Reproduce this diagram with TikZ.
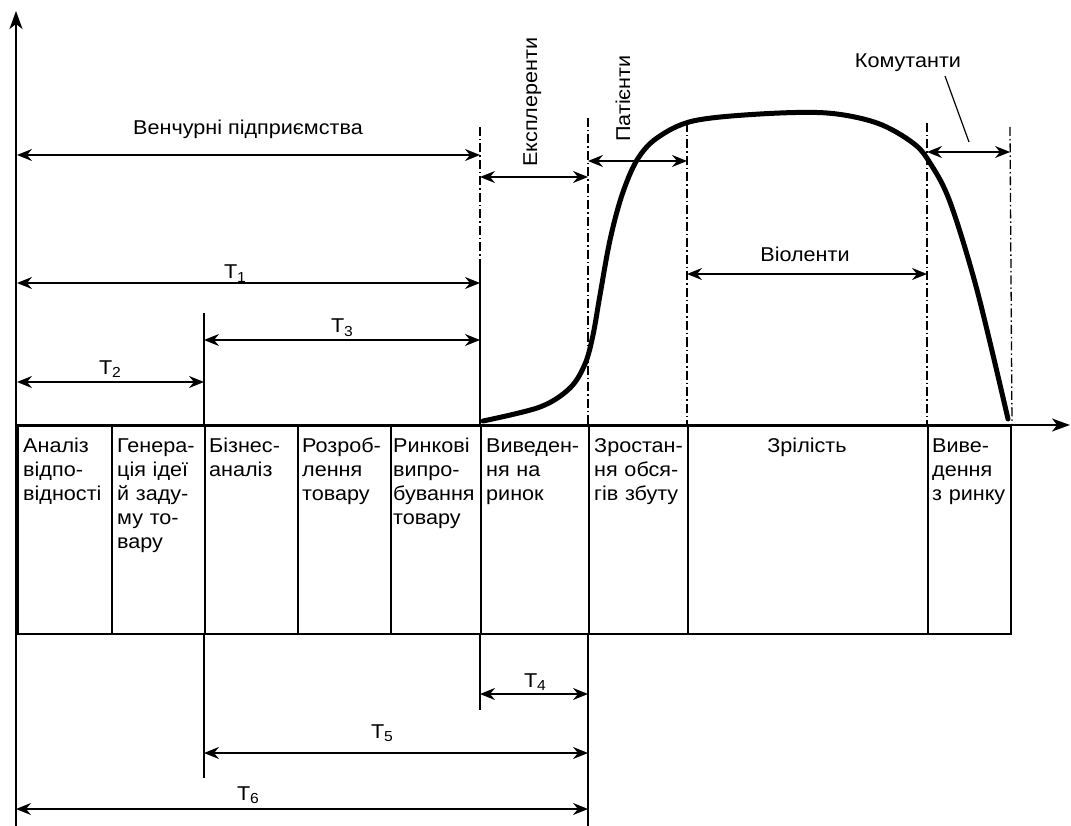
\documentclass[tikz,border=0pt]{standalone}
\usepackage{fontspec}
\setmainfont{Liberation Sans}[FakeStretch=1.08]
\usetikzlibrary{arrows.meta}
\newcommand{\Tlab}[1]{T\raisebox{-0.35ex}{\fontsize{14.5}{14.5}\selectfont #1}}
\begin{document}
\begin{tikzpicture}[x=1pt,y=-1pt,
  tipA/.tip={Stealth[length=15pt,width=12pt,inset=5pt]},
  dim/.style={line width=1.5pt, tipA-tipA},
  axis/.style={line width=1.8pt, -{Stealth[length=18pt,width=13pt,inset=5pt]}},
  guide/.style={line width=1.4pt},
  dashdot line/.style={line width=1.3pt, dash pattern=on 9pt off 3pt on 1.5pt off 3pt},
  stage/.style={draw, line width=2pt, minimum height=208pt, inner sep=0pt, anchor=north west},
  lbl/.style={font=\fontsize{20}{24}\selectfont, inner sep=0pt, anchor=base},
  stagetext/.style={lbl, text width=150pt, align=left, anchor=base west},
  curve/.style={line width=5pt, line cap=round, line join=round}
]
\useasboundingbox (0,0) rectangle (1071,826);

% stage boxes
\node[stage, minimum width=94pt]  (s1) at (17,425) {};
\node[stage, minimum width=93pt]  (s2) at (111,425) {};
\node[stage, minimum width=93pt]  (s3) at (204,425) {};
\node[stage, minimum width=93pt]  (s4) at (297,425) {};
\node[stage, minimum width=90pt]  (s5) at (390,425) {};
\node[stage, minimum width=108pt] (s6) at (480,425) {};
\node[stage, minimum width=99pt]  (s7) at (588,425) {};
\node[stage, minimum width=240pt] (s8) at (687,425) {};
\node[stage, minimum width=83pt]  (s9) at (927,425) {};

\node[stagetext] (t1) at (23,452) {Аналіз\\відпо-\\відності};
\node[stagetext] (t2) at (117,452) {Генера-\\ція ідеї\\й заду-\\му то-\\вару};
\node[stagetext] (t3) at (209,452) {Бізнес-\\аналіз};
\node[stagetext] (t4) at (302,452) {Розроб-\\лення\\товару};
\node[stagetext] (t5) at (393,452) {Ринкові\\випро-\\бування\\товару};
\node[stagetext] (t6) at (486,452) {Виведен-\\ня на\\ринок};
\node[stagetext] (t7) at (594,452) {Зростан-\\ня обся-\\гів збуту};
\node[lbl] (t8) at (807,452) {Зрілість};
\node[stagetext] (t9) at (932,452) {Виве-\\дення\\з ринку};

% axes
\coordinate (O) at (16,826);
\coordinate (ytop) at (16,11);
\coordinate (xs) at (16,425);
\coordinate (xe) at (1070,425);
\draw[axis] (O) -- (ytop);
\draw[axis] (xs) -- (xe);

% solid guide lines
\coordinate (g204t) at (204,313);
\coordinate (g204b) at (204,778);
\coordinate (g480m) at (480,265);
\coordinate (g480b) at (480,710);
\coordinate (g588b) at (588,826);
\draw[guide] (g204t) -- (s3.north west);
\draw[guide] (s3.south west) -- (g204b);
\draw[guide] (g480m) -- (s6.north west);
\draw[guide] (s6.south west) -- (g480b);
\draw[guide] (s7.south west) -- (g588b);

% dash-dot guide lines
\coordinate (d480) at (480,127);
\coordinate (d588) at (588,118);
\coordinate (d688) at (687,123);
\coordinate (d927) at (927,123);
\coordinate (d1010) at (1010,127);
\draw[dashdot line] (d480) -- (g480m);
\draw[dashdot line] (d588) -- (s7.north west);
\draw[dashdot line] (d688) -- (s8.north west);
\draw[dashdot line] (d927) -- (s9.north west);
\draw[dashdot line] (d1010) -- (s9.north east);

% life-cycle curve
\draw[curve] plot[smooth, tension=0.55] coordinates {
 (483,421) (540,407) (570,388) (585,364) (593,335) (600,295) (610,240)
 (622,195) (637,160) (657,138) (693,121) (760,114) (827,113) (877,123)
 (913,143) (930,163) (950,202) (977,290) (1008,419)};

% dimension arrows
\coordinate (a1) at (17,155);  \coordinate (a2) at (480,155);
\coordinate (b1) at (17,283);  \coordinate (b2) at (480,283);
\coordinate (c1) at (17,382);  \coordinate (c2) at (204,382);
\coordinate (e1) at (204,340); \coordinate (e2) at (480,340);
\coordinate (f1) at (480,177); \coordinate (f2) at (588,177);
\coordinate (h1) at (588,161); \coordinate (h2) at (687,161);
\coordinate (k1) at (687,274); \coordinate (k2) at (927,274);
\coordinate (m1) at (927,152); \coordinate (m2) at (1010,152);
\coordinate (p1) at (480,694); \coordinate (p2) at (588,694);
\coordinate (q1) at (204,753); \coordinate (q2) at (588,753);
\coordinate (r1) at (16,809);  \coordinate (r2) at (588,809);
\draw[dim] (a1) -- (a2);
\draw[dim] (b1) -- (b2);
\draw[dim] (c1) -- (c2);
\draw[dim] (e1) -- (e2);
\draw[dim] (f1) -- (f2);
\draw[dim] (h1) -- (h2);
\draw[dim] (k1) -- (k2);
\draw[dim] (m1) -- (m2);
\draw[dim] (p1) -- (p2);
\draw[dim] (q1) -- (q2);
\draw[dim] (r1) -- (r2);

% labels
\node[lbl] (lv) at (248,135) {Венчурні підприємства};
\node[lbl] (l1) at (235,279) {\Tlab{1}};
\node[lbl] (l2) at (110,374) {\Tlab{2}};
\node[lbl] (l3) at (342,333) {\Tlab{3}};
\node[lbl] (l4) at (535,687) {\Tlab{4}};
\node[lbl] (l5) at (382,738) {\Tlab{5}};
\node[lbl] (l6) at (248,800) {\Tlab{6}};
\node[lbl] (lvi) at (805,262) {Віоленти};
\node[lbl] (lk) at (908,68) {Комутанти};
\node[lbl, anchor=base west, rotate=90] (le) at (537,167) {Експлеренти};
\node[lbl, anchor=base west, rotate=90] (lp) at (630,142) {Патієнти};

% leader
\coordinate (kl1) at (945,76);
\coordinate (kl2) at (969,142);
\draw[line width=1.2pt] (kl1) -- (kl2);
\end{tikzpicture}
\end{document}
